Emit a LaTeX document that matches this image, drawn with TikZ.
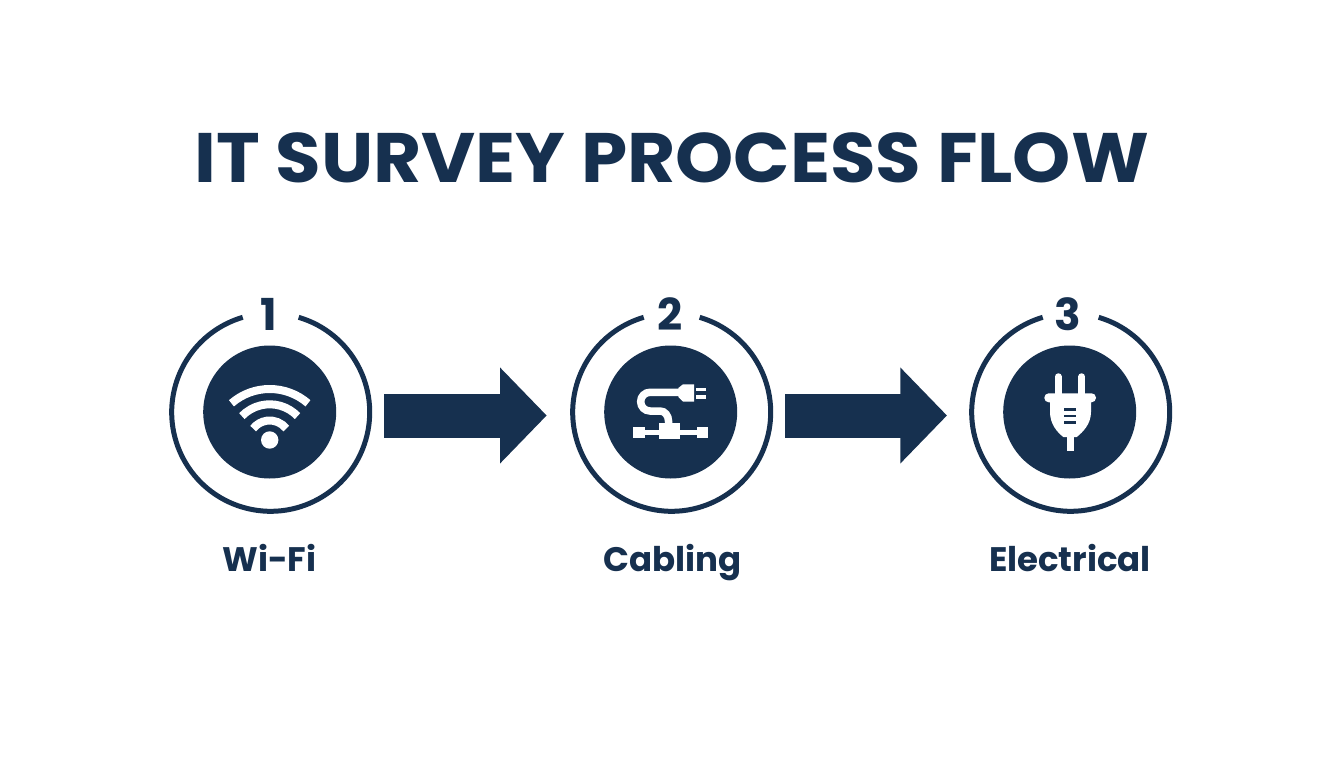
\documentclass[tikz,border=0pt]{standalone}
\usepackage{fontspec}
\setmainfont{Poppins}
\newfontfamily\headfont[FakeStretch=1.058]{Poppins}
\usepackage{tikz}
\usetikzlibrary{arrows.meta}
\definecolor{navy}{HTML}{16304F}

\begin{document}
\begin{tikzpicture}[
			x=1pt, y=-1pt,
			heading/.style={text=navy, font=\headfont\bfseries\fontsize{70}{70}\selectfont, inner sep=0pt, anchor=base},
			ring/.style={circle, minimum size=198pt, inner sep=0pt, outer sep=0pt},
			disk/.style={circle, fill=navy, minimum size=133pt, inner sep=0pt},
			number/.style={text=navy, font=\bfseries\fontsize{44}{44}\selectfont, inner sep=0pt, anchor=base},
			caption/.style={text=navy, font=\bfseries\fontsize{34}{34}\selectfont, inner sep=0pt, anchor=base},
			rim/.style={draw=navy, line width=5pt},
			link/.style={draw=navy, line width=44pt, -{Triangle[length=46.7pt,width=93.3pt]}},
			wave/.style={draw=white, line width=8pt},
			cord/.style={draw=white, line width=7.5pt},
			shell/.style={fill=white},
			prong/.style={draw=white, line width=6.7pt, line cap=round},
			slot/.style={draw=navy, line width=2.4pt},
			]
			\useasboundingbox (0,0) rectangle (1344,768);
			\fill[white] (0,0) rectangle (1344,768);

			%Nodes
				\node[heading]	(title)		at (671.6,182.3)	{IT SURVEY PROCESS FLOW};
				\node[ring]		(ring-1)	at (269.7,412)	{};
				\node[ring]		(ring-2)	at (670.7,412)	{};
				\node[ring]		(ring-3)	at (1069.7,412)	{};
				\node[disk]		(disk-1)	at (ring-1)		{};
				\node[disk]		(disk-2)	at (ring-2)		{};
				\node[disk]		(disk-3)	at (ring-3)		{};
				\node[number]	(num-1)		at (269,330)	{1};
				\node[number]	(num-2)		at (670,330)	{2};
				\node[number]	(num-3)		at (1068,330)	{3};
				\node[caption]	(label-1)	at (269.5,571)	{Wi-Fi};
				\node[caption]	(label-2)	at (672.5,571)	{Cabling};
				\node[caption]	(label-3)	at (1070,571)	{Electrical};

			%Rings
				\draw[rim] (ring-1.73.6) arc[start angle=73.6, end angle=-253.6, radius=99pt];
				\draw[rim] (ring-2.73.6) arc[start angle=73.6, end angle=-253.6, radius=99pt];
				\draw[rim] (ring-3.73.6) arc[start angle=73.6, end angle=-253.6, radius=99pt];

			%Lines
				\draw[link, shorten <=15.6pt, shorten >=25pt] ([yshift=-3.5pt]ring-1.east) -- ([yshift=-3.5pt]ring-2.west);
				\draw[link, shorten <=15.3pt, shorten >=23.7pt] ([yshift=-3.5pt]ring-2.east) -- ([yshift=-3.5pt]ring-3.west);

			%Wi-Fi
				\draw[wave] (269.7,447.3) ++(49:58.3pt) arc[start angle=49, end angle=131, radius=58.3pt];
				\draw[wave] (269.7,443) ++(44:38.7pt) arc[start angle=44, end angle=136, radius=38.7pt];
				\draw[wave] (269.7,441.5) ++(38:21pt) arc[start angle=38, end angle=142, radius=21pt];
				\fill[white] (269.7,440) circle[radius=8.7pt];

			%Cabling
				\draw[cord] (680,392.3) -- (650,392.3) arc[start angle=90, end angle=270, radius=9.35pt] -- (660,411) to[out=0, in=90] (668.5,421) -- (668.5,428);
				\fill[shell] (678.3,388) -- (683,384.3) -- (694,384.3) -- (694,401.5) -- (683,401.5) -- (678.3,397) -- cycle;
				\fill[shell] (696,387.5) rectangle (706,391);
				\fill[shell] (696,395.3) rectangle (706,398.8);
				\fill[shell] (633,427) rectangle (645,437.5);
				\fill[shell] (645,430) rectangle (697,435);
				\fill[shell] (659.3,423.3) rectangle (680,439);
				\fill[shell] (696.7,427) rectangle (708.3,437.5);

			%Electrical
				\draw[prong] (1058.3,376.6) -- (1058.3,395);
				\draw[prong] (1081.7,376.6) -- (1081.7,395);
				\fill[shell, rounded corners=4.4pt] (1044.3,393.3) rectangle (1096,402.3);
				\fill[shell] (1050,400) -- (1091,400) -- (1091,412) .. controls (1091,424) and (1083,432) .. (1076.7,437) -- (1063.3,437) .. controls (1057,432) and (1050,424) .. (1050,412) -- cycle;
				\fill[shell] (1066.7,435) rectangle (1074,451);
				\draw[slot] (1064.3,409.3) -- (1075.7,409.3);
				\draw[slot] (1064.3,415.7) -- (1075.7,415.7);
				\draw[slot] (1064.3,422.3) -- (1075.7,422.3);
		\end{tikzpicture}
\end{document}
